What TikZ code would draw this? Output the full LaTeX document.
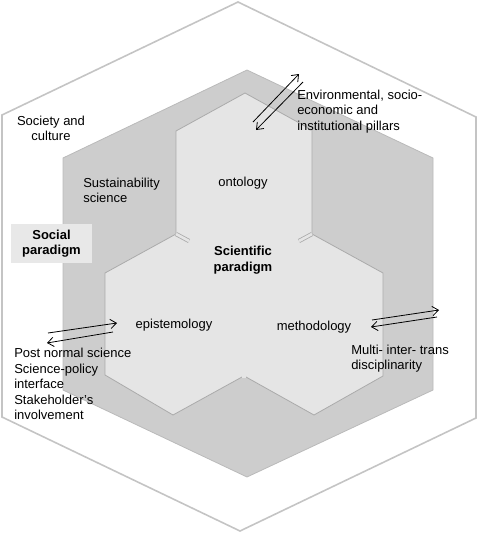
\documentclass[tikz,border=0pt]{standalone}
\usepackage{fontspec}
\setmainfont{Liberation Sans}
\usetikzlibrary{arrows.meta}
\definecolor{outerline}{RGB}{196,196,196}
\definecolor{ringgray}{RGB}{205,205,205}
\definecolor{ringline}{RGB}{186,186,186}
\definecolor{cellgray}{RGB}{229,229,229}
\definecolor{cellline}{RGB}{170,170,170}
\definecolor{boxgray}{RGB}{232,232,232}

\begin{document}
\begin{tikzpicture}[
    x=0.75pt, y=-0.75pt,
    label text/.style={inner sep=0pt, font=\fontsize{9.75}{11.6}\selectfont, text=black},
    left text/.style={label text, align=left, anchor=west},
    mid text/.style={label text, align=center},
    social box/.style={mid text, font=\fontsize{9.75}{11.6}\selectfont\bfseries,
                       fill=boxgray, minimum width=60.75pt, minimum height=29.25pt},
    cell sep/.style={draw=cellline, line width=0.6pt, double=cellgray, double distance=2pt},
    flow/.style={-{Straight Barb[length=4.5pt, width=7pt]}, line width=0.6pt}
]
\useasboundingbox (0,0) rectangle (477,533);

% society and culture
\draw[outerline, line width=1.2pt] (238,2) -- (476,117) -- (476,418) -- (240,531)
    -- (2,417) -- (2,115) -- cycle;
% sustainability science
\filldraw[fill=ringgray, draw=ringline, line width=0.6pt] (247,70) -- (433,158) -- (433,390)
    -- (247,477) -- (63,390) -- (63,158) -- cycle;
% ontology / epistemology / methodology cells
\filldraw[fill=cellgray, draw=cellline, line width=0.6pt] (245,93) -- (312,130) -- (312,234)
    -- (383,273) -- (383,376) -- (314,415) -- (246,377) -- (242,377) -- (173,415)
    -- (105,375) -- (105,273) -- (176,234) -- (176,131) -- cycle;
\draw[cell sep] (176,234) -- (189,241);
\draw[cell sep] (312,234) -- (299,241);
\draw[cell sep, double distance=2.4pt] (244,377.5) -- (244,283);

% labels
\node[mid text] (society) at (51,128.5) {Society and\\culture};
\node[left text] (sustain) at (83,190.5) {Sustainability\\science};
\node[social box] (social) at (51.5,243.5) {Social\\paradigm};
\node[label text] (ontology) at (243,183) {ontology};
\node[mid text, font=\fontsize{9.75}{11.6}\selectfont\bfseries] (scientific) at (243,260) {Scientific\\paradigm};
\node[label text] (episteme) at (174,325) {epistemology};
\node[label text] (method) at (314,327) {methodology};
\node[left text] (pillars) at (297,111.3) {Environmental, socio-\\economic and\\institutional pillars};
\node[left text] (disciplines) at (351,358.5) {Multi- inter- trans\\disciplinarity};
\node[left text] (postnormal) at (14,384) {Post normal science\\Science-policy\\interface\\Stakeholder's\\involvement};

% double arrows
\coordinate (onto in) at (253,122);
\coordinate (onto out) at (299,74);
\coordinate (onto back) at (303,82);
\coordinate (onto end) at (256,130);
\draw[flow] (onto in) -- (onto out);
\draw[flow] (onto back) -- (onto end);

\coordinate (epi in) at (48,333);
\coordinate (epi out) at (117,323);
\coordinate (epi back) at (113,332);
\coordinate (epi end) at (47,343);
\draw[flow] (epi in) -- (epi out);
\draw[flow] (epi back) -- (epi end);

\coordinate (meth in) at (372,320);
\coordinate (meth out) at (439,310);
\coordinate (meth back) at (437,317);
\coordinate (meth end) at (371,327);
\draw[flow] (meth in) -- (meth out);
\draw[flow] (meth back) -- (meth end);
\end{tikzpicture}
\end{document}
